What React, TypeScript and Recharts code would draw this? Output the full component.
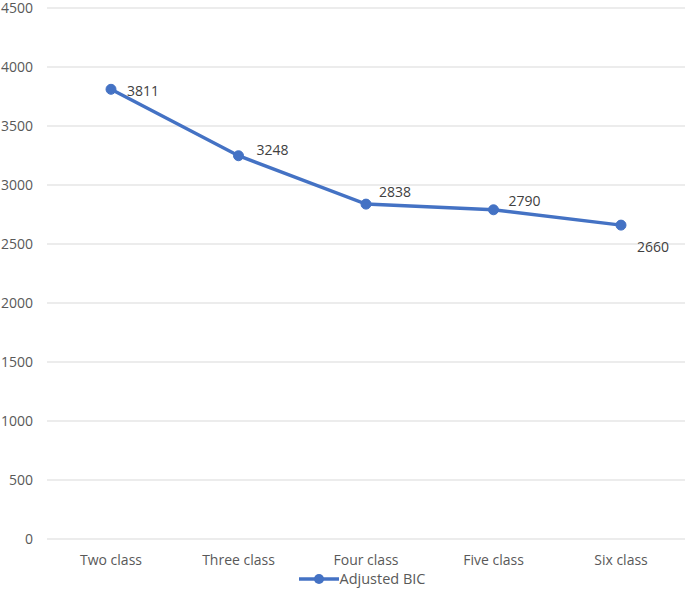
import React from 'react'
import { LineChart, Line, XAxis, YAxis, CartesianGrid, Legend } from 'recharts'

const classes = ['Two class', 'Three class', 'Four class', 'Five class', 'Six class']
const adjustedBic = [3811, 3248, 2838, 2790, 2660]
const yTicks = [0, 500, 1000, 1500, 2000, 2500, 3000, 3500, 4000, 4500]

// where each data label sits relative to its point
const labelOffsets: [number, number][] = [
  [16, 1],
  [18, -6],
  [13, -13],
  [15, -9],
  [16, 21],
]

const data = classes.map((name, i) => ({ name, bic: adjustedBic[i] }))

const FONT = '"Open Sans", "Noto Sans", sans-serif'
const BLUE = '#4472C4'

const PointLabel = (props: any) => {
  const { x, y, value, index } = props
  const [dx, dy] = labelOffsets[index] || [14, 0]
  return (
    <text
      x={x + dx}
      y={y + dy}
      dominantBaseline="central"
      fontSize={14}
      fontFamily={FONT}
      fill="#404040"
    >
      {value}
    </text>
  )
}

const LegendContent = () => (
  <div style={{ display: 'flex', justifyContent: 'center', alignItems: 'center', paddingLeft: 40, fontFamily: FONT, fontSize: 14.5, color: '#595959' }}>
    <svg width={40} height={12}>
      <line x1={0} y1={6} x2={40} y2={6} stroke={BLUE} strokeWidth={3.5} />
      <circle cx={20} cy={6} r={5} fill={BLUE} />
    </svg>
    <span>Adjusted BIC</span>
  </div>
)

export default function App() {
  return (
    <div style={{ width: 685, height: 615, background: '#fff' }}>
      <style>{'body{margin:0}'}</style>
      <LineChart
        width={685}
        height={615}
        data={data}
        margin={{ top: 8, right: 0, bottom: 10, left: 0 }}
      >
        <CartesianGrid vertical={false} stroke="#d9d9d9" strokeWidth={1} />
        <XAxis
          dataKey="name"
          height={30}
          padding={{ left: 64, right: 64 }}
          axisLine={false}
          tickLine={false}
          tickSize={0}
          tickMargin={16}
          tick={{ fill: '#595959', fontSize: 14, fontFamily: FONT }}
        />
        <YAxis
          width={47}
          domain={[0, 4500]}
          ticks={yTicks}
          axisLine={false}
          tickLine={false}
          tickSize={0}
          tickMargin={14}
          tick={{ fill: '#595959', fontSize: 14, fontFamily: FONT }}
        />
        <Legend verticalAlign="bottom" height={36} content={<LegendContent />} />
        <Line
          type="linear"
          dataKey="bic"
          name="Adjusted BIC"
          stroke={BLUE}
          strokeWidth={3.5}
          dot={{ r: 5, fill: BLUE, stroke: BLUE, strokeWidth: 1 }}
          label={<PointLabel />}
          isAnimationActive={false}
        />
      </LineChart>
    </div>
  )
}
